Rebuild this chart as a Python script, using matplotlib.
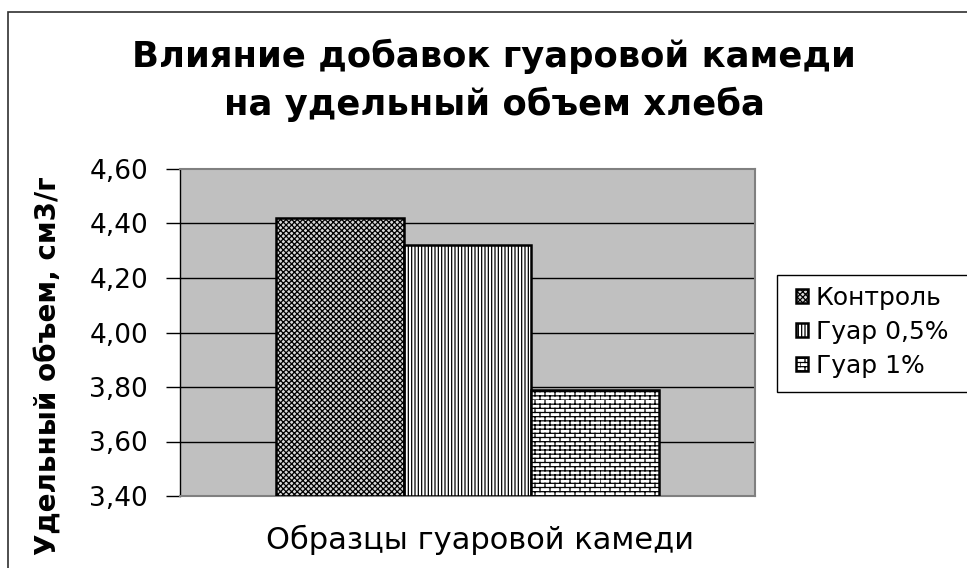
import warnings
warnings.filterwarnings("ignore")
import numpy as np
import matplotlib
matplotlib.use("Agg")
import matplotlib.pyplot as plt
from matplotlib import hatch as mhatch
from matplotlib.path import Path
from matplotlib.patches import Rectangle

# ---- data ----
series = ["Контроль", "Гуар 0,5%", "Гуар 1%"]
values = [4.42, 4.32, 3.79]
yticks = [3.40, 3.60, 3.80, 4.00, 4.20, 4.40, 4.60]
title = "Влияние добавок гуаровой камеди\nна удельный объем хлеба"
xlabel = "Образцы гуаровой камеди"
ylabel = "Удельный объем, см3/г"


class BrickHatch(mhatch.HatchPatternBase):
    def __init__(self, hatch, density):
        self.rows = int(hatch.count('b') * density)
        self.cols = max(int(self.rows * 5 / 12), 1)
        self.num_vertices = (self.rows * 2 + self.rows * self.cols * 2) if self.rows else 0

    def set_vertices_and_codes(self, vertices, codes):
        k = 0
        h = 1.0 / self.rows
        for i in range(self.rows):
            y0 = i * h
            vertices[k] = (0.0, y0); codes[k] = Path.MOVETO; k += 1
            vertices[k] = (1.0, y0); codes[k] = Path.LINETO; k += 1
            off = 0.5 / self.cols if i % 2 else 0.0
            for j in range(self.cols):
                x = j / self.cols + off
                vertices[k] = (x, y0); codes[k] = Path.MOVETO; k += 1
                vertices[k] = (x, y0 + h); codes[k] = Path.LINETO; k += 1


mhatch._hatch_types.append(BrickHatch)

plt.rcParams['hatch.linewidth'] = 0.9
plt.rcParams['font.family'] = ['DejaVu Sans']

W, H = 967, 568
fig = plt.figure(figsize=(W / 100, H / 100), dpi=100)
fig.patch.set_facecolor('white')

# outer chart border
fig.add_artist(Rectangle((8 / W, -0.05), 1.1, 1 - 12 / H + 0.05, transform=fig.transFigure,
                         fill=False, edgecolor='#303030', linewidth=1.2))

left, right, top, bottom = 180, 755, 169, 496
ax = fig.add_axes([left / W, 1 - bottom / H, (right - left) / W, (bottom - top) / H])
ax.set_facecolor('#C0C0C0')

hatches = ['xxxxxx', '|||||', 'bbbb']
faces = ['#d8d8d8', 'white', 'white']
w = 0.2226
xs = [-w, 0.0, w]
for x, v, s, hch, fc in zip(xs, values, series, hatches, faces):
    ax.bar(x, v - yticks[0], bottom=yticks[0], width=w, color=fc, edgecolor='black',
           hatch=hch, linewidth=1.8, label=s, zorder=3)

ax.set_xlim(-0.5, 0.5)
ax.set_ylim(yticks[0], yticks[-1])
ax.set_yticks(yticks)
ax.set_yticklabels([f"{t:.2f}".replace('.', ',') for t in yticks], fontsize=19)
ax.set_xticks([])
ax.tick_params(axis='y', direction='out', length=10, width=1, pad=13, colors='black')
for t in yticks[1:-1]:
    ax.axhline(t, color='black', linewidth=1, zorder=1)
for side in ['top', 'right', 'bottom']:
    ax.spines[side].set_color('#808080')
    ax.spines[side].set_linewidth(1.5)
ax.spines['left'].set_color('black')
ax.spines['left'].set_linewidth(1)

fig.text(494 / W, 1 - 39 / H, title, ha='center', va='top', fontsize=25.5,
         fontweight='bold', linespacing=1.45)
fig.text(480 / W, 1 - 540 / H, xlabel, ha='center', va='center', fontsize=22)
fig.text(49 / W, 1 - 366 / H, ylabel, ha='center', va='center', rotation=90,
         fontsize=20, fontweight='bold')

# legend frame drawn separately
fig.add_artist(Rectangle((777 / W, 1 - 392 / H), 0.3, 117 / H, transform=fig.transFigure,
                         facecolor='white', edgecolor='black', linewidth=1, zorder=4))
leg = fig.legend(loc='upper left', bbox_to_anchor=(788 / W, 1 - 278 / H), fontsize=18,
                 frameon=False, handlelength=0.5,
                 handleheight=0.5, handletextpad=0.3, labelspacing=0.4,
                 borderpad=0.3, borderaxespad=0)
leg.set_zorder(5)

fig.savefig('out.png', dpi=100, facecolor='white')
